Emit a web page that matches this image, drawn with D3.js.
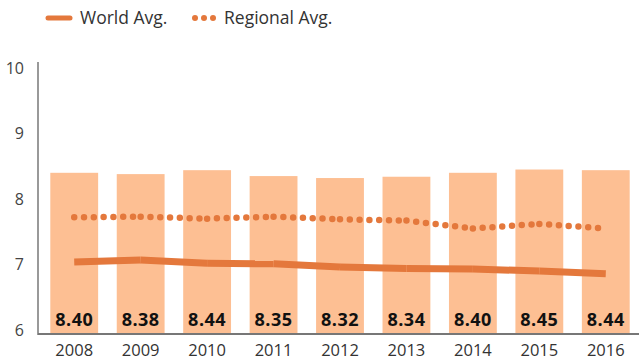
<!DOCTYPE html>
<meta charset="utf-8">
<title>World vs Regional Avg.</title>
<script src="https://d3js.org/d3.v7.min.js"></script>
<style>
    body { margin: 0; background: #fff; }
    text { font-family: "Open Sans", sans-serif; }
</style>
<body>
<div id="chart"></div>
<script>
    // data
    var years = ["2008", "2009", "2010", "2011", "2012", "2013", "2014", "2015", "2016"];
    var scores = [8.40, 8.38, 8.44, 8.35, 8.32, 8.34, 8.40, 8.45, 8.44];
    var worldAvg = [7.04, 7.07, 7.02, 7.01, 6.96, 6.94, 6.93, 6.90, 6.86];
    var regionalAvg = [7.72, 7.73, 7.70, 7.73, 7.69, 7.67, 7.55, 7.62, 7.55];
    var yTicks = [6, 7, 8, 9, 10];

    var W = 639, H = 360;
    var baseY = 334;
    var barColor = "#fdbf93", lineColor = "#e4783c";

    var svg = d3.select("#chart").append("svg")
        .attr("width", W).attr("height", H);

    var x = d3.scaleBand().domain(years)
        .range([41, 639]).paddingInner(0.28).paddingOuter(0.14);
    var y = d3.scaleLinear().domain([6, 10]).range([330, 68]);

    // bars
    svg.selectAll(".bar").data(scores).enter()
        .append("rect")
        .attr("class", "bar")
        .attr("x", function(d, i) { return x(years[i]); })
        .attr("y", function(d) { return y(d); })
        .attr("width", x.bandwidth())
        .attr("height", function(d) { return baseY - y(d); })
        .attr("fill", barColor);

    // bar values
    svg.selectAll(".val").data(scores).enter()
        .append("text")
        .attr("class", "val")
        .attr("x", function(d, i) { return x(years[i]) + x.bandwidth() / 2; })
        .attr("y", 326)
        .attr("text-anchor", "middle")
        .style("font-size", "18px")
        .style("font-weight", "bold")
        .style("letter-spacing", "0.5px")
        .attr("fill", "#111")
        .text(function(d) { return d.toFixed(2); });

    var cx = function(i) { return x(years[i]) + x.bandwidth() / 2; };

    // each segment drawn on its own, like the original
    function segments(vals) {
        var segs = [];
        for (var i = 0; i < vals.length - 1; i++) {
            segs.push([[cx(i), y(vals[i])], [cx(i + 1), y(vals[i + 1])]]);
        }
        return segs;
    }
    var line = d3.line();

    svg.selectAll(".world").data(segments(worldAvg)).enter()
        .append("path")
        .attr("class", "world")
        .attr("d", line)
        .attr("fill", "none")
        .attr("stroke", lineColor)
        .attr("stroke-width", 7);

    svg.selectAll(".regional").data(segments(regionalAvg)).enter()
        .append("path")
        .attr("class", "regional")
        .attr("d", line)
        .attr("fill", "none")
        .attr("stroke", lineColor)
        .attr("stroke-width", 6.5)
        .attr("stroke-linecap", "round")
        .attr("stroke-dasharray", "0 9.8");

    // axes
    var xAxis = svg.append("g")
        .attr("transform", "translate(0," + baseY + ")")
        .call(d3.axisBottom(x).tickSize(0).tickPadding(10));
    xAxis.select(".domain").attr("stroke", "#777").attr("stroke-width", 2)
        .attr("d", "M38,0H639");
    xAxis.selectAll("text").style("font-size", "16.5px").attr("fill", "#333")
        .style("font-family", "'Open Sans', sans-serif");

    var yAxis = svg.append("g")
        .attr("transform", "translate(38,0)")
        .call(d3.axisLeft(y).tickValues(yTicks).tickFormat(d3.format("d"))
            .tickSize(0).tickPadding(14));
    yAxis.select(".domain").attr("stroke", "#777").attr("stroke-width", 1.5)
        .attr("d", "M0,62V335");
    yAxis.selectAll("text").style("font-size", "16px").attr("fill", "#444")
        .style("font-family", "'Open Sans', sans-serif");

    // legend
    var leg = svg.append("g");
    leg.append("line")
        .attr("x1", 48).attr("x2", 70).attr("y1", 18).attr("y2", 18)
        .attr("stroke", lineColor).attr("stroke-width", 5).attr("stroke-linecap", "round");
    leg.append("text").attr("x", 80).attr("y", 24)
        .style("font-size", "17.5px").attr("fill", "#333").text("World Avg.");
    leg.selectAll(".ldot").data([195, 204, 213]).enter()
        .append("circle")
        .attr("cx", function(d) { return d; }).attr("cy", 18).attr("r", 3)
        .attr("fill", lineColor);
    leg.append("text").attr("x", 224).attr("y", 24)
        .style("font-size", "17.5px").attr("fill", "#333").text("Regional Avg.");
</script>
</body>
